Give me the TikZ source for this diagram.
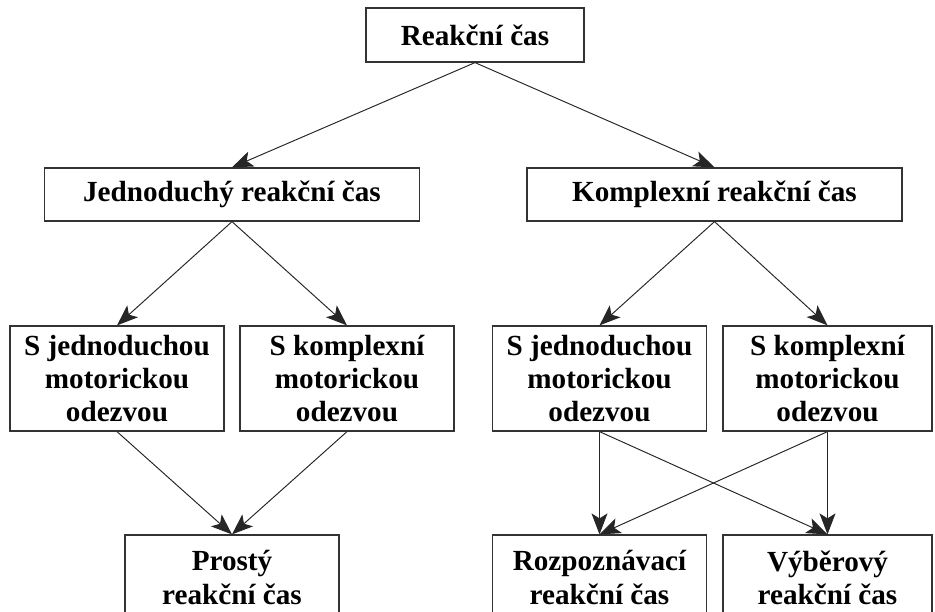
\documentclass[tikz,border=0pt]{standalone}
\usepackage{fontspec}
\setmainfont{Liberation Serif}
\usetikzlibrary{arrows.meta}

\begin{document}
\begin{tikzpicture}[
    box/.style={draw=black!80, line width=0.7pt, rectangle, inner sep=2pt,
        font=\fontsize{16.6}{18.8}\selectfont\bfseries},
    widebox/.style={box, minimum width=7.5cm, minimum height=1.06cm},
    motorbox/.style={box, align=center, minimum width=4.28cm, minimum height=2.1cm},
    endbox/.style={box, align=center, minimum width=4.28cm, minimum height=1.7cm},
    arr/.style={-{Stealth[length=4.2mm, width=3.2mm, inset=1mm]}, draw=black!85, line width=0.55pt},
]
    \clip (0,0) rectangle (18.7,-12.24);

    % Root node
    \node[box, minimum width=4.36cm, minimum height=1.08cm] (reakce) at (9.5,-0.7) {Reakční čas};

    % Two main kinds
    \node[widebox] (jednoduchy) at (4.64,-3.89) {Jednoduchý reakční čas};
    \node[widebox] (komplexni) at (14.29,-3.89) {Komplexní reakční čas};

    % Motor response boxes
    \node[motorbox] (sjedA) at (2.34,-7.57) {S jednoduchou\\motorickou\\odezvou};
    \node[motorbox] (skomA) at (6.94,-7.57) {S komplexní\\motorickou\\odezvou};
    \node[motorbox] (sjedB) at (11.99,-7.57) {S jednoduchou\\motorickou\\odezvou};
    \node[motorbox, minimum width=4.18cm] (skomB) at (16.55,-7.57) {S komplexní\\motorickou\\odezvou};

    % Resulting reaction times
    \node[endbox] (prosty) at (4.64,-11.55) {Prostý\\reakční čas};
    \node[endbox] (rozpozn) at (11.99,-11.55) {Rozpoznávací\\reakční čas};
    \node[endbox, minimum width=4.18cm] (vyber) at (16.55,-11.55) {Výběrový\\reakční čas};

    % Arrows
    \draw[arr] (reakce.south) -- (jednoduchy.north);
    \draw[arr] (reakce.south) -- (komplexni.north);
    \draw[arr] (jednoduchy.south) -- (sjedA.north);
    \draw[arr] (jednoduchy.south) -- (skomA.north);
    \draw[arr] (komplexni.south) -- (sjedB.north);
    \draw[arr] (komplexni.south) -- (skomB.north);
    \draw[arr] (sjedA.south) -- (prosty.north);
    \draw[arr] (skomA.south) -- (prosty.north);
    \draw[arr] (sjedB.south) -- (rozpozn.north);
    \draw[arr] (sjedB.south) -- (vyber.north);
    \draw[arr] (skomB.south) -- (rozpozn.north);
    \draw[arr] (skomB.south) -- (vyber.north);
\end{tikzpicture}
\end{document}
